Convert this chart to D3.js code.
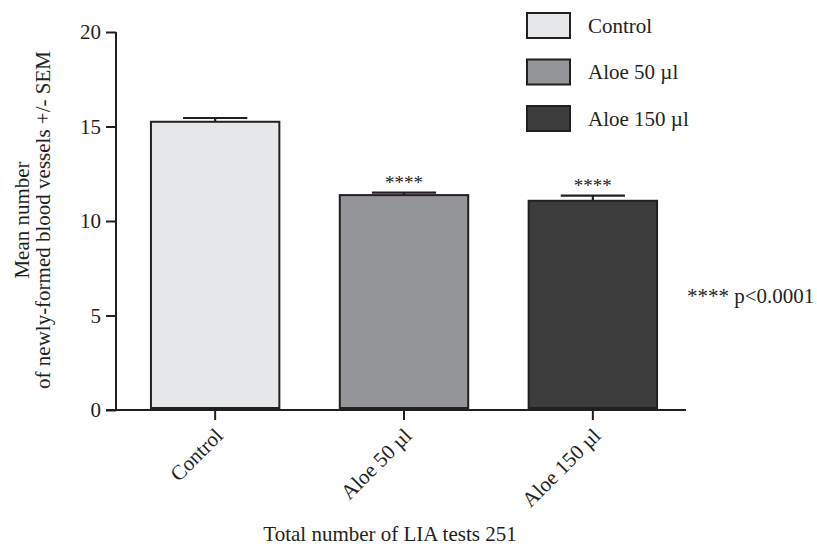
<!DOCTYPE html>
<html><head><meta charset="utf-8">
<script src="https://cdn.jsdelivr.net/npm/d3@7"></script>
<style>body{margin:0;background:#fff}text{font-family:"Liberation Serif","Times New Roman",serif;fill:#231f20}</style>
</head><body><svg id="c" width="817" height="553"></svg>
<script>
const categories = ["Control", "Aloe 50 \u00b5l", "Aloe 150 \u00b5l"];
const means = [15.25, 11.37, 11.07];
const sems = [0.2, 0.13, 0.27];
const significance = ["", "****", "****"];
const fills = ["#e6e7e8", "#939598", "#3c3c3c"];
const yTicks = [0, 5, 10, 15, 20];

const svg = d3.select("#c");
const ink = "#231f20";
const FS = 21;
const y = d3.scaleLinear().domain([0, 20]).range([410, 32]);
const x = d3.scaleBand().domain(categories).range([116, 692]).paddingInner(0.32).paddingOuter(0.185);

// y axis
const yAxis = d3.axisLeft(y).tickValues(yTicks).tickSize(10).tickPadding(5);
const gy = svg.append("g").attr("transform", "translate(116,0)").call(yAxis);
gy.select(".domain").attr("stroke", ink).attr("stroke-width", 2).attr("d", "M0,32V410");
gy.selectAll(".tick line").attr("stroke", ink).attr("stroke-width", 2);
gy.selectAll(".tick text").attr("font-size", FS).attr("font-family", "Liberation Serif").attr("fill", ink);

// bars
svg.append("g").selectAll("rect").data(categories).join("rect")
  .attr("x", d => x(d)).attr("width", x.bandwidth())
  .attr("y", (d, i) => y(means[i])).attr("height", (d, i) => y(0) - y(means[i]) - 2)
  .attr("fill", (d, i) => fills[i]).attr("stroke", ink).attr("stroke-width", 2);

// error bars
const eb = svg.append("g").attr("stroke", ink).attr("stroke-width", 2.2);
categories.forEach((c, i) => {
  const cx = x(c) + x.bandwidth() / 2;
  const hw = x.bandwidth() / 4;
  eb.append("line").attr("x1", cx).attr("x2", cx).attr("y1", y(means[i])).attr("y2", y(means[i] + sems[i]));
  eb.append("line").attr("x1", cx - hw).attr("x2", cx + hw).attr("y1", y(means[i] + sems[i])).attr("y2", y(means[i] + sems[i]));
  if (significance[i]) {
    svg.append("text").attr("x", cx).attr("y", y(means[i] + sems[i]) - 4)
      .attr("text-anchor", "middle").attr("font-size", 19).text(significance[i]);
  }
});

// x axis
const xAxis = d3.axisBottom(x).tickSize(10).tickPadding(4);
const gx = svg.append("g").attr("transform", "translate(0,410)").call(xAxis);
gx.select(".domain").attr("stroke", ink).attr("stroke-width", 2).attr("d", "M106,0H686");
gx.selectAll(".tick line").attr("stroke", ink).attr("stroke-width", 2);
gx.selectAll(".tick text").attr("font-size", FS).attr("font-family", "Liberation Serif").attr("fill", ink)
  .attr("text-anchor", "end").attr("dy", null).attr("y", null)
  .attr("transform", "translate(9,27) rotate(-45)");

// axis titles
svg.append("text").attr("transform", "translate(29,220) rotate(-90)").attr("text-anchor", "middle")
  .attr("font-size", FS).text("Mean number");
svg.append("text").attr("transform", "translate(50,220) rotate(-90)").attr("text-anchor", "middle")
  .attr("font-size", FS).text("of newly-formed blood vessels +/- SEM");
svg.append("text").attr("x", 390).attr("y", 541).attr("text-anchor", "middle")
  .attr("font-size", FS).text("Total number of LIA tests 251");

// legend
const lg = svg.append("g");
categories.forEach((c, i) => {
  const ly = 13 + i * 46.5;
  lg.append("rect").attr("x", 527).attr("y", ly).attr("width", 43).attr("height", 25)
    .attr("fill", fills[i]).attr("stroke", ink).attr("stroke-width", 2);
  lg.append("text").attr("x", 588).attr("y", ly + 19.5).attr("font-size", FS).text(c);
});

// annotation
svg.append("text").attr("x", 687).attr("y", 303).attr("font-size", FS).text("**** p<0.0001");
</script></body></html>
